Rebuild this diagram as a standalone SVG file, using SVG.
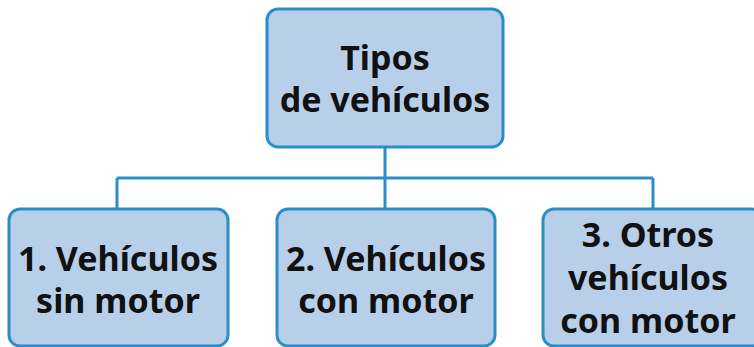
<svg xmlns="http://www.w3.org/2000/svg" width="754" height="347" viewBox="0 0 754 347">
<style>
.box{fill:#b8cfea;stroke:#2a8fc9;stroke-width:3}
.t{font-family:"Noto Sans","DejaVu Sans",sans-serif;font-weight:bold;font-size:34px;fill:#111;text-anchor:middle}
.c{fill:none;stroke:#2a8fc9;stroke-width:3}
</style>
<g id="connectors">
<path class="c" d="M385 147V178M117 178H653M117 178V209M385 178V209M653 178V209"/>
</g>
<g id="root">
<rect class="box" x="267" y="9" width="236" height="138" rx="11"/>
<text class="t" x="385" y="70">Tipos</text>
<text class="t" x="385" y="112">de vehículos</text>
</g>
<g id="n1">
<rect class="box" x="9" y="209" width="219" height="137" rx="11"/>
<text class="t" x="118" y="271">1. Vehículos</text>
<text class="t" x="118" y="313">sin motor</text>
</g>
<g id="n2">
<rect class="box" x="277" y="209" width="218" height="137" rx="11"/>
<text class="t" x="386" y="271">2. Vehículos</text>
<text class="t" x="386" y="313">con motor</text>
</g>
<g id="n3">
<rect class="box" x="543" y="209" width="220" height="137" rx="11"/>
<text class="t" x="648" y="247">3. Otros</text>
<text class="t" x="648" y="290">vehículos</text>
<text class="t" x="648" y="333">con motor</text>
</g>
</svg>
